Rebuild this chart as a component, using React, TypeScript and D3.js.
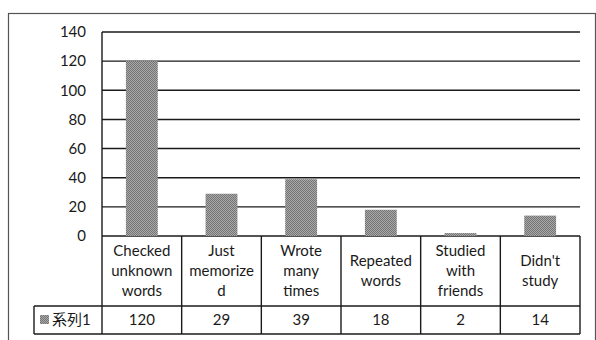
import React from "react";
import * as d3 from "d3";

// Survey answers: how students prepared for the vocabulary test
const categoryLines: string[][] = [
  ["Checked", "unknown", "words"],
  ["Just", "memorize", "d"],
  ["Wrote", "many", "times"],
  ["Repeated", "words"],
  ["Studied", "with", "friends"],
  ["Didn't", "study"],
];
const categoryKeys = categoryLines.map((l) => l.join(" "));
const seriesName = "系列1";
const seriesValues = [120, 29, 39, 18, 2, 14];
const yTicks = [0, 20, 40, 60, 80, 100, 120, 140];

const W = 596;
const H = 340;
const plotLeft = 102;
const plotRight = 580;
const plotTop = 32;
const plotBottom = 236;
const catRowBottom = 306;
const dataRowBottom = 334;
const legendLeft = 34;
const font = "Lato, 'Open Sans', sans-serif";
const fontSize = 15;
const ink = "#1a1a1a";

export default function App() {
  const x = d3.scaleBand<string>().domain(categoryKeys).range([plotLeft, plotRight]).paddingInner(0).paddingOuter(0);
  const y = d3.scaleLinear().domain([0, 140]).range([plotBottom, plotTop]);
  const barW = x.bandwidth() * 0.4;
  const edges = [plotLeft, ...categoryKeys.map((k) => (x(k) as number) + x.bandwidth())];

  return (
    <svg
      width={W}
      height={H}
      viewBox={`0 0 ${W} ${H}`}
      style={{ position: "fixed", left: 0, top: 0, background: "#fff" }}
    >
      <defs>
        <pattern id="dither" width="2" height="2" patternUnits="userSpaceOnUse">
          <rect width="2" height="2" fill="#a9a9a9" />
          <rect width="1" height="1" fill="#747474" />
          <rect x="1" y="1" width="1" height="1" fill="#747474" />
        </pattern>
      </defs>

      {/* chart frame */}
      <rect x={8.5} y={13.5} width={587} height={340} fill="none" stroke="#555" strokeWidth={1.2} />

      {/* gridlines */}
      {yTicks.map((t) => (
        <line key={t} x1={plotLeft} x2={plotRight} y1={y(t)} y2={y(t)} stroke={ink} strokeWidth={1.4} />
      ))}
      <line x1={plotLeft} x2={plotLeft} y1={plotTop} y2={plotBottom} stroke={ink} strokeWidth={1.4} />

      {/* y tick labels */}
      {yTicks.map((t) => (
        <text
          key={t}
          x={86}
          y={y(t)}
          dy="0.35em"
          textAnchor="end"
          fontFamily={font}
          fontSize={fontSize}
          fill={ink}
        >
          {t}
        </text>
      ))}

      {/* bars */}
      {categoryKeys.map((k, i) => {
        const cx = (x(k) as number) + x.bandwidth() / 2;
        return (
          <rect
            key={k}
            x={cx - barW / 2}
            y={y(seriesValues[i])}
            width={barW}
            height={plotBottom - y(seriesValues[i])}
            fill="url(#dither)"
          />
        );
      })}

      {/* data table */}
      <g stroke={ink} strokeWidth={1.4} fill="none">
        <line x1={plotLeft} x2={plotRight} y1={catRowBottom} y2={catRowBottom} />
        <line x1={legendLeft} x2={plotLeft} y1={catRowBottom} y2={catRowBottom} />
        <line x1={legendLeft} x2={plotRight} y1={dataRowBottom} y2={dataRowBottom} />
        <line x1={legendLeft} x2={legendLeft} y1={catRowBottom} y2={dataRowBottom} />
        {edges.map((e, i) => (
          <line key={i} x1={e} x2={e} y1={plotBottom} y2={dataRowBottom} />
        ))}
      </g>

      {categoryLines.map((lines, i) => {
        const cx = (x(categoryKeys[i]) as number) + x.bandwidth() / 2;
        const lh = 20;
        const mid = (plotBottom + catRowBottom) / 2;
        const start = mid - ((lines.length - 1) * lh) / 2;
        return (
          <text key={i} textAnchor="middle" fontFamily={font} fontSize={fontSize} fill={ink}>
            {lines.map((l, j) => (
              <tspan key={j} x={cx} y={start + j * lh} dy="0.35em">
                {l}
              </tspan>
            ))}
          </text>
        );
      })}

      {seriesValues.map((v, i) => {
        const cx = (x(categoryKeys[i]) as number) + x.bandwidth() / 2;
        return (
          <text
            key={i}
            x={cx}
            y={(catRowBottom + dataRowBottom) / 2}
            dy="0.35em"
            textAnchor="middle"
            fontFamily={font}
            fontSize={fontSize}
            fill={ink}
          >
            {v}
          </text>
        );
      })}

      {/* legend key */}
      <rect x={40} y={315} width={9} height={9} fill="url(#dither)" />
      <text
        x={52}
        y={(catRowBottom + dataRowBottom) / 2}
        dy="0.35em"
        fontFamily={`${font}, 'Noto Sans CJK JP'`}
        fontSize={fontSize}
        fill={ink}
      >
        {seriesName}
      </text>
    </svg>
  );
}
